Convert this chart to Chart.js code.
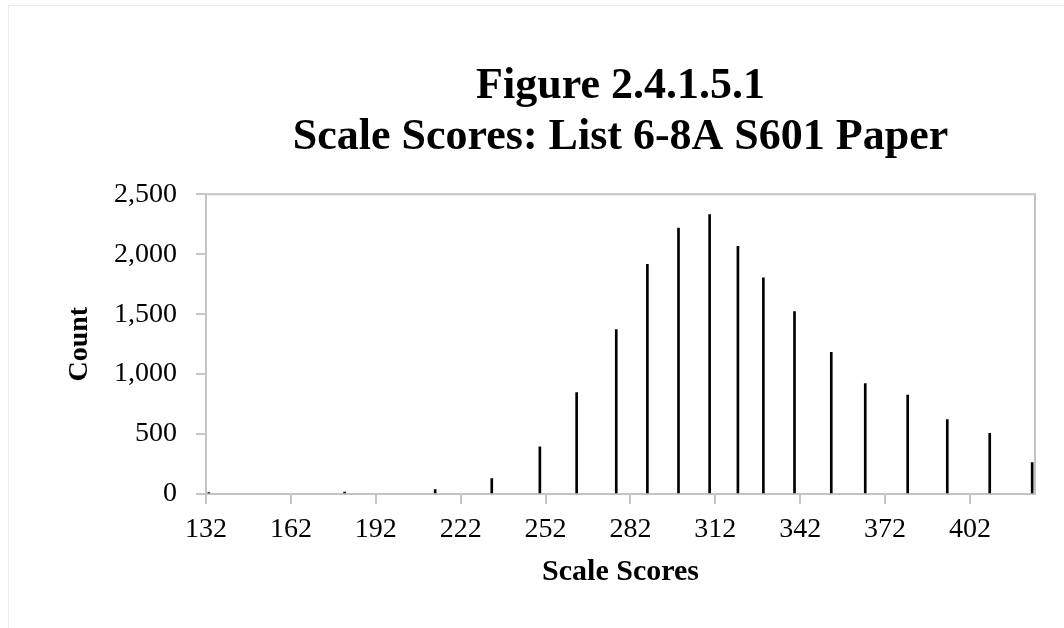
<!DOCTYPE html>
<html>
<head>
<meta charset="utf-8">
<script src="https://cdn.jsdelivr.net/npm/chart.js@4"></script>
<style>
  html, body { margin: 0; padding: 0; background: #fff; }
  #wrap { position: relative; width: 1064px; height: 628px; }
  #frame {
    position: absolute; left: 8px; top: 5px; right: 0; bottom: 0;
    border-top: 1px solid #ececec; border-left: 1px solid #ececec;
    pointer-events: none;
  }
</style>
</head>
<body>
<div id="wrap">
  <canvas id="score-chart" width="1064" height="628"></canvas>
  <div id="frame"></div>
</div>
<script>
// Scale scores and counts
const scores = [133, 181, 213, 233, 250, 263, 277, 288, 299, 310, 320, 329, 340, 353, 365, 380, 394, 409, 424];
const counts = [12, 15, 36, 128, 393, 847, 1371, 1917, 2218, 2330, 2067, 1803, 1522, 1181, 922, 825, 621, 507, 262];
const xTicks = [132, 162, 192, 222, 252, 282, 312, 342, 372, 402];
const titleLines = ["Figure 2.4.1.5.1", "Scale Scores: List 6-8A S601 Paper"];

const axisGray = "#c4c4c4";
const serif = "'Liberation Serif', 'Times New Roman', serif";

// plot area border on top and right (Excel style)
const plotBorder = {
  id: "plotBorder",
  beforeDatasetsDraw(chart) {
    const { ctx, chartArea: a } = chart;
    ctx.save();
    ctx.strokeStyle = axisGray;
    ctx.lineWidth = 2;
    ctx.beginPath();
    ctx.moveTo(a.left, a.top);
    ctx.lineTo(a.right, a.top);
    ctx.lineTo(a.right, a.bottom);
    ctx.stroke();
    ctx.restore();
  },
};

const ctx = document.getElementById("score-chart").getContext("2d");
const scoreChart = new Chart(ctx, {
  type: "bar",
  data: {
    datasets: [
      {
        data: scores.map((s, i) => ({ x: s, y: counts[i] })),
        backgroundColor: "#000",
        barThickness: 2,
      },
    ],
  },
  plugins: [plotBorder],
  options: {
    responsive: false,
    animation: false,
    layout: { padding: { top: 0, right: 29, bottom: 0, left: 0 } },
    plugins: {
      legend: { display: false },
      tooltip: { enabled: false },
      title: {
        display: true,
        fullSize: false, // centre over the plot area
        text: titleLines,
        color: "#000",
        font: { family: serif, size: 44, weight: "bold", lineHeight: 1.14 },
        padding: { top: 62, bottom: 32 },
      },
    },
    scales: {
      x: {
        type: "linear",
        min: 132,
        max: 425,
        offset: false,
        afterBuildTicks(scale) {
          scale.ticks = xTicks.map((v) => ({ value: v }));
        },
        afterFit(scale) {
          scale.height = 134;
        },
        ticks: {
          color: "#000",
          font: { family: serif, size: 28 },
          padding: 9,
          maxRotation: 0,
          autoSkip: false,
        },
        grid: {
          offset: false,
          drawOnChartArea: false,
          drawTicks: true,
          tickLength: 10,
          color: axisGray,
          lineWidth: 2,
        },
        border: { color: axisGray, width: 2 },
        title: {
          display: true,
          text: "Scale Scores",
          color: "#000",
          font: { family: serif, size: 30, weight: "bold", lineHeight: 1.2 },
          padding: { top: 0, bottom: 38 },
        },
      },
      y: {
        min: 0,
        max: 2500,
        afterFit(scale) {
          scale.width = 206;
        },
        ticks: {
          stepSize: 500,
          color: "#000",
          font: { family: serif, size: 28 },
          padding: 19,
        },
        grid: {
          drawOnChartArea: false,
          drawTicks: true,
          tickLength: 10,
          color: axisGray,
          lineWidth: 2,
        },
        border: { color: axisGray, width: 2 },
        title: {
          display: true,
          text: "Count",
          color: "#000",
          font: { family: serif, size: 28, weight: "bold", lineHeight: 1.2 },
          padding: { top: 63, bottom: 0 },
        },
      },
    },
  },
});
</script>
</body>
</html>
